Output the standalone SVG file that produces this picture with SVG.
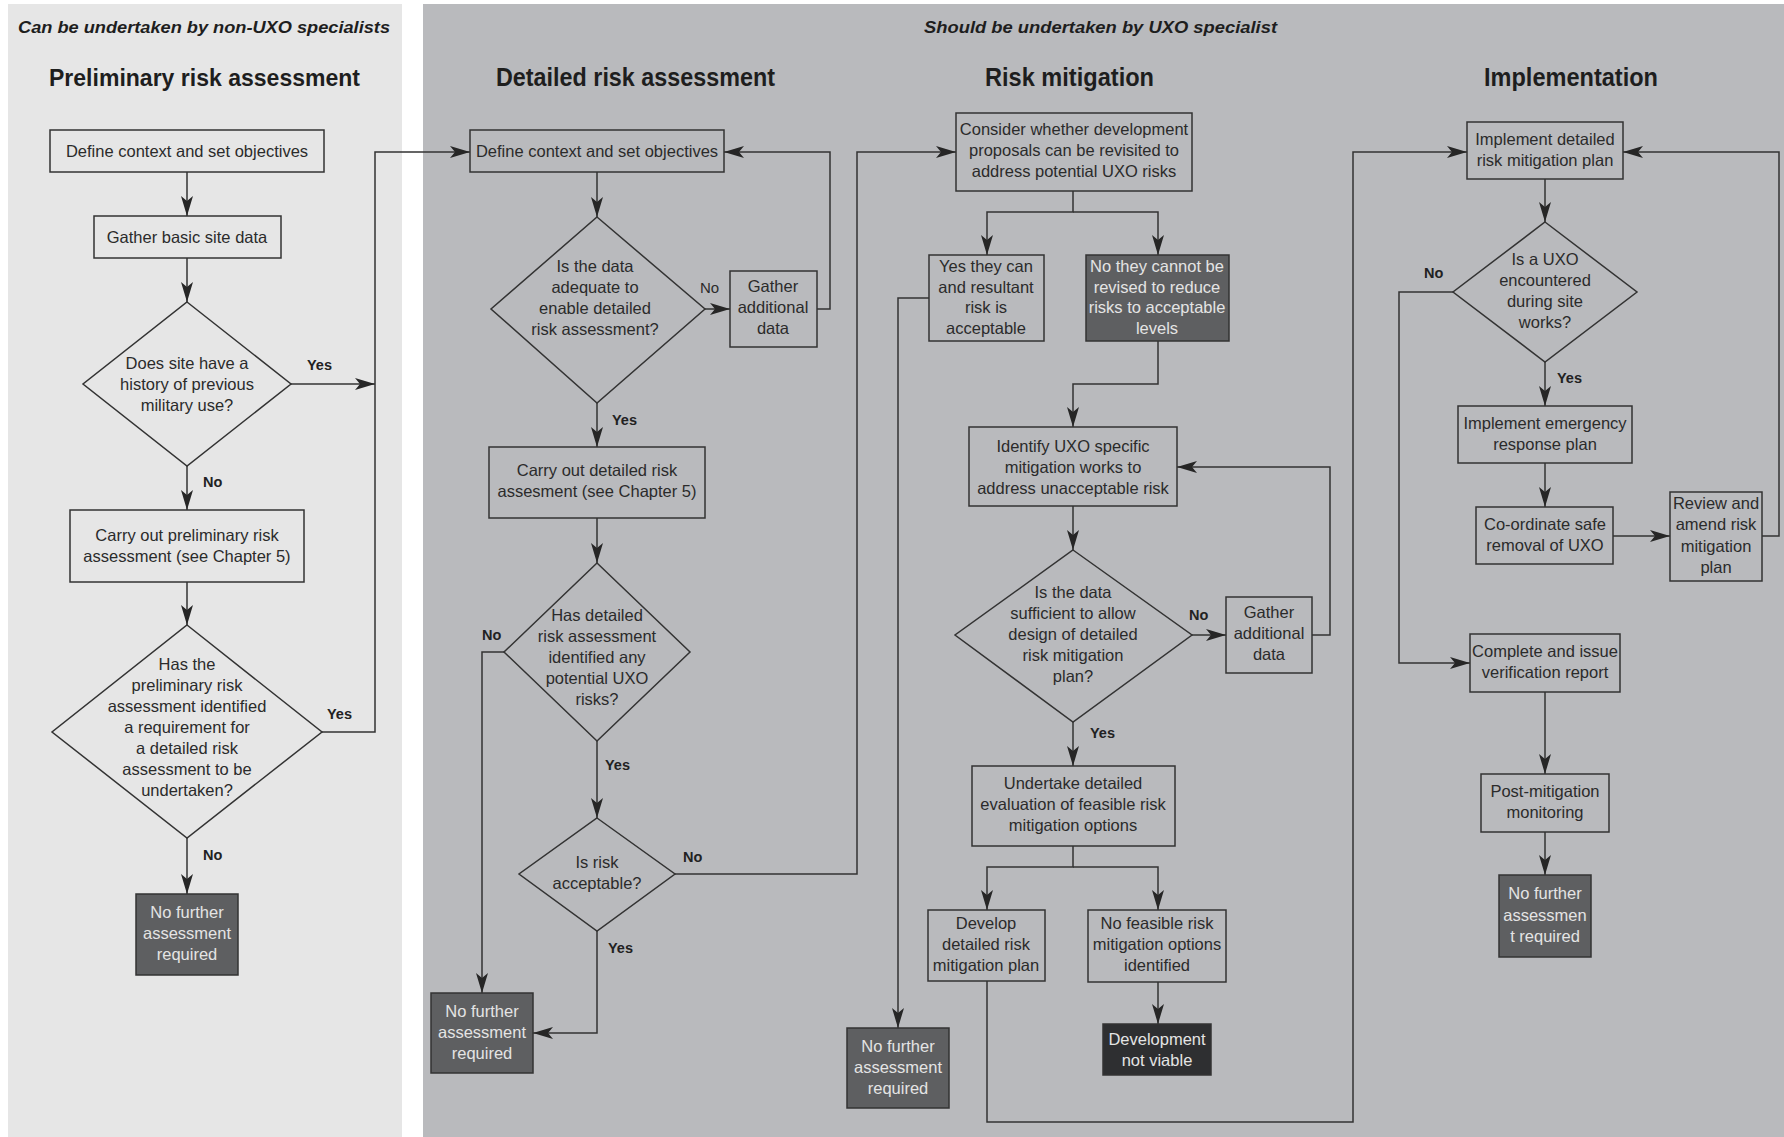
<svg xmlns="http://www.w3.org/2000/svg" width="1784" height="1137" viewBox="0 0 1784 1137">
<style>
.t{font-family:"Liberation Sans",Arial,sans-serif;font-size:16.5px;fill:#2b2b2b;text-anchor:middle}
.tw{font-family:"Liberation Sans",Arial,sans-serif;font-size:16.5px;fill:#e4e4e4;text-anchor:middle}
.lab{font-family:"Liberation Sans",Arial,sans-serif;font-size:14.5px;font-weight:bold;fill:#222}
.labr{font-family:"Liberation Sans",Arial,sans-serif;font-size:15px;fill:#2b2b2b}
.hd{font-family:"Liberation Sans Narrow","Liberation Sans",Arial,sans-serif;font-weight:bold;fill:#1e1e1e}
.bl{fill:#e6e6e6;stroke:#333;stroke-width:1.5}
.br{fill:#b9babd;stroke:#333;stroke-width:1.5}
.bd{fill:#5e5f61;stroke:#333;stroke-width:1.5}
.bx{fill:#2e2f31;stroke:#333;stroke-width:1.5}
.c{fill:none;stroke:#333;stroke-width:1.5}
.ca{fill:none;stroke:#333;stroke-width:1.5;marker-end:url(#ah)}
</style>
<defs>
<marker id="ah" markerWidth="20" markerHeight="12" refX="20" refY="6" orient="auto" markerUnits="userSpaceOnUse"><path d="M0,0 L20,6 L0,12 L5,6 z" fill="#262626"/></marker>
</defs>
<rect x="0" y="0" width="1784" height="1137" fill="#ffffff"/>
<rect x="8" y="4" width="394" height="1133" fill="#e6e6e6"/>
<rect x="423" y="4" width="1361" height="1133" fill="#b9babd"/>

<g id="headings">
<text class="hd" x="18" y="33" font-size="17" font-style="italic" textLength="372" lengthAdjust="spacingAndGlyphs">Can be undertaken by non-UXO specialists</text>
<text class="hd" x="49" y="86" font-size="24" textLength="311" lengthAdjust="spacingAndGlyphs">Preliminary risk assessment</text>
<text class="hd" x="924" y="33" font-size="17" font-style="italic" textLength="353" lengthAdjust="spacingAndGlyphs">Should be undertaken by UXO specialist</text>
<text class="hd" x="496" y="86" font-size="26" textLength="279" lengthAdjust="spacingAndGlyphs">Detailed risk assessment</text>
<text class="hd" x="985" y="86" font-size="26" textLength="169" lengthAdjust="spacingAndGlyphs">Risk mitigation</text>
<text class="hd" x="1484" y="86" font-size="26" textLength="174" lengthAdjust="spacingAndGlyphs">Implementation</text>
</g>

<g id="connectors">
<path class="ca" d="M187,172 V216"/>
<path class="ca" d="M187,258 V302"/>
<path class="ca" d="M291,384 H375"/>
<path class="ca" d="M187,466 V510"/>
<path class="ca" d="M187,582 V625"/>
<path class="ca" d="M322,732 H375 V152 H470"/>
<path class="ca" d="M187,838 V894"/>

<path class="ca" d="M597,172 V217"/>
<path class="ca" d="M705,309 H730"/>
<path class="ca" d="M817,309 H830 V152 H724"/>
<path class="ca" d="M597,403 V447"/>
<path class="ca" d="M597,518 V563"/>
<path class="ca" d="M504,652 H482 V993"/>
<path class="ca" d="M597,741 V818"/>
<path class="ca" d="M597,931 V1033 H533"/>
<path class="ca" d="M675,874 H857 V152 H956"/>

<path class="ca" d="M1073,191 V212 H987 V255"/>
<path class="ca" d="M1073,212 H1158 V255"/>
<path class="ca" d="M929,298 H898 V1028"/>
<path class="ca" d="M1158,341 V384 H1073 V427"/>
<path class="ca" d="M1073,506 V550"/>
<path class="ca" d="M1192,635 H1226"/>
<path class="ca" d="M1312,635 H1330 V467 H1177"/>
<path class="ca" d="M1073,722 V766"/>
<path class="ca" d="M1073,846 V867 H987 V910"/>
<path class="ca" d="M1073,867 H1158 V910"/>
<path class="ca" d="M1158,982 V1024"/>
<path class="ca" d="M987,981 V1122 H1353 V152 H1467"/>

<path class="ca" d="M1545,179 V222"/>
<path class="ca" d="M1545,362 V406"/>
<path class="ca" d="M1545,463 V507"/>
<path class="ca" d="M1613,536 H1670"/>
<path class="ca" d="M1762,536 H1779 V152 H1623"/>
<path class="ca" d="M1453,292 H1399 V663 H1470"/>
<path class="ca" d="M1545,692 V774"/>
<path class="ca" d="M1545,832 V875"/>

<text class="lab" x="307" y="370">Yes</text>
<text class="lab" x="203" y="487">No</text>
<text class="lab" x="327" y="719">Yes</text>
<text class="lab" x="203" y="860">No</text>
<text class="labr" x="700" y="293">No</text>
<text class="lab" x="612" y="425">Yes</text>
<text class="lab" x="482" y="640">No</text>
<text class="lab" x="605" y="770">Yes</text>
<text class="lab" x="683" y="862">No</text>
<text class="lab" x="608" y="953">Yes</text>
<text class="lab" x="1189" y="620">No</text>
<text class="lab" x="1090" y="738">Yes</text>
<text class="lab" x="1424" y="278">No</text>
<text class="lab" x="1557" y="383">Yes</text>
</g>

<g id="L1"><rect class="bl" x="50" y="130" width="274" height="42"/><text class="t" x="187" y="157">Define context and set objectives</text></g>
<g id="L2"><rect class="bl" x="94" y="216" width="187" height="42"/><text class="t" x="187" y="243">Gather basic site data</text></g>
<g id="L3"><polygon class="bl" points="187,302 291,384 187,466 83,384"/><text class="t"><tspan x="187" y="369">Does site have a</tspan><tspan x="187" y="390">history of previous</tspan><tspan x="187" y="411">military use?</tspan></text></g>
<g id="L4"><rect class="bl" x="70" y="510" width="234" height="72"/><text class="t"><tspan x="187" y="541">Carry out preliminary risk</tspan><tspan x="187" y="562">assessment (see Chapter 5)</tspan></text></g>
<g id="L5"><polygon class="bl" points="187,625 322,732 187,838 52,732"/><text class="t"><tspan x="187" y="670">Has the</tspan><tspan x="187" y="691">preliminary risk</tspan><tspan x="187" y="712">assessment identified</tspan><tspan x="187" y="733">a requirement for</tspan><tspan x="187" y="754">a detailed risk</tspan><tspan x="187" y="775">assessment to be</tspan><tspan x="187" y="796">undertaken?</tspan></text></g>
<g id="L6"><rect class="bd" x="136" y="894" width="102" height="81"/><text class="tw"><tspan x="187" y="918">No further</tspan><tspan x="187" y="939">assessment</tspan><tspan x="187" y="960">required</tspan></text></g>

<g id="D1"><rect class="br" x="470" y="130" width="254" height="42"/><text class="t" x="597" y="157">Define context and set objectives</text></g>
<g id="D2"><polygon class="br" points="597,217 705,309 597,403 491,309"/><text class="t"><tspan x="595" y="272">Is the data</tspan><tspan x="595" y="293">adequate to</tspan><tspan x="595" y="314">enable detailed</tspan><tspan x="595" y="335">risk assessment?</tspan></text></g>
<g id="D3"><rect class="br" x="730" y="271" width="87" height="76"/><text class="t"><tspan x="773" y="292">Gather</tspan><tspan x="773" y="313">additional</tspan><tspan x="773" y="334">data</tspan></text></g>
<g id="D4"><rect class="br" x="489" y="447" width="216" height="71"/><text class="t"><tspan x="597" y="476">Carry out detailed risk</tspan><tspan x="597" y="497">assesment (see Chapter 5)</tspan></text></g>
<g id="D5"><polygon class="br" points="597,563 690,652 597,741 504,652"/><text class="t"><tspan x="597" y="621">Has detailed</tspan><tspan x="597" y="642">risk assessment</tspan><tspan x="597" y="663">identified any</tspan><tspan x="597" y="684">potential UXO</tspan><tspan x="597" y="705">risks?</tspan></text></g>
<g id="D6"><polygon class="br" points="597,818 675,874 597,931 519,874"/><text class="t"><tspan x="597" y="868">Is risk</tspan><tspan x="597" y="889">acceptable?</tspan></text></g>
<g id="D7"><rect class="bd" x="431" y="993" width="102" height="80"/><text class="tw"><tspan x="482" y="1017">No further</tspan><tspan x="482" y="1038">assessment</tspan><tspan x="482" y="1059">required</tspan></text></g>

<g id="M1"><rect class="br" x="956" y="113" width="236" height="78"/><text class="t"><tspan x="1074" y="135">Consider whether development</tspan><tspan x="1074" y="156">proposals can be revisited to</tspan><tspan x="1074" y="177">address potential UXO risks</tspan></text></g>
<g id="M2"><rect class="br" x="929" y="255" width="115" height="86"/><text class="t"><tspan x="986" y="272">Yes they can</tspan><tspan x="986" y="293">and resultant</tspan><tspan x="986" y="313">risk is</tspan><tspan x="986" y="334">acceptable</tspan></text></g>
<g id="M3"><rect class="bd" x="1086" y="255" width="143" height="86"/><text class="tw"><tspan x="1157" y="272">No they cannot be</tspan><tspan x="1157" y="293">revised to reduce</tspan><tspan x="1157" y="313">risks to acceptable</tspan><tspan x="1157" y="334">levels</tspan></text></g>
<g id="M4"><rect class="br" x="969" y="427" width="208" height="79"/><text class="t"><tspan x="1073" y="452">Identify UXO specific</tspan><tspan x="1073" y="473">mitigation works to</tspan><tspan x="1073" y="494">address unacceptable risk</tspan></text></g>
<g id="M5"><polygon class="br" points="1073,550 1192,635 1073,722 955,635"/><text class="t"><tspan x="1073" y="598">Is the data</tspan><tspan x="1073" y="619">sufficient to allow</tspan><tspan x="1073" y="640">design of detailed</tspan><tspan x="1073" y="661">risk mitigation</tspan><tspan x="1073" y="682">plan?</tspan></text></g>
<g id="M6"><rect class="br" x="1226" y="597" width="86" height="76"/><text class="t"><tspan x="1269" y="618">Gather</tspan><tspan x="1269" y="639">additional</tspan><tspan x="1269" y="660">data</tspan></text></g>
<g id="M7"><rect class="br" x="972" y="766" width="203" height="80"/><text class="t"><tspan x="1073" y="789">Undertake detailed</tspan><tspan x="1073" y="810">evaluation of feasible risk</tspan><tspan x="1073" y="831">mitigation options</tspan></text></g>
<g id="M8"><rect class="br" x="928" y="910" width="117" height="71"/><text class="t"><tspan x="986" y="929">Develop</tspan><tspan x="986" y="950">detailed risk</tspan><tspan x="986" y="971">mitigation plan</tspan></text></g>
<g id="M9"><rect class="br" x="1088" y="910" width="138" height="72"/><text class="t"><tspan x="1157" y="929">No feasible risk</tspan><tspan x="1157" y="950">mitigation options</tspan><tspan x="1157" y="971">identified</tspan></text></g>
<g id="M10"><rect class="bx" x="1103" y="1024" width="108" height="51"/><text class="tw"><tspan x="1157" y="1045">Development</tspan><tspan x="1157" y="1066">not viable</tspan></text></g>
<g id="M11"><rect class="bd" x="847" y="1028" width="102" height="80"/><text class="tw"><tspan x="898" y="1052">No further</tspan><tspan x="898" y="1073">assessment</tspan><tspan x="898" y="1094">required</tspan></text></g>

<g id="I1"><rect class="br" x="1467" y="122" width="156" height="57"/><text class="t"><tspan x="1545" y="145">Implement detailed</tspan><tspan x="1545" y="166">risk mitigation plan</tspan></text></g>
<g id="I2"><polygon class="br" points="1545,222 1637,292 1545,362 1453,292"/><text class="t"><tspan x="1545" y="265">Is a UXO</tspan><tspan x="1545" y="286">encountered</tspan><tspan x="1545" y="307">during site</tspan><tspan x="1545" y="328">works?</tspan></text></g>
<g id="I3"><rect class="br" x="1458" y="406" width="174" height="57"/><text class="t"><tspan x="1545" y="429">Implement emergency</tspan><tspan x="1545" y="450">response plan</tspan></text></g>
<g id="I4"><rect class="br" x="1476" y="507" width="137" height="57"/><text class="t"><tspan x="1545" y="530">Co-ordinate safe</tspan><tspan x="1545" y="551">removal of UXO</tspan></text></g>
<g id="I5"><rect class="br" x="1670" y="492" width="92" height="89"/><text class="t"><tspan x="1716" y="509">Review and</tspan><tspan x="1716" y="530">amend risk</tspan><tspan x="1716" y="552">mitigation</tspan><tspan x="1716" y="573">plan</tspan></text></g>
<g id="I6"><rect class="br" x="1470" y="634" width="150" height="58"/><text class="t"><tspan x="1545" y="657">Complete and issue</tspan><tspan x="1545" y="678">verification report</tspan></text></g>
<g id="I7"><rect class="br" x="1481" y="774" width="128" height="58"/><text class="t"><tspan x="1545" y="797">Post-mitigation</tspan><tspan x="1545" y="818">monitoring</tspan></text></g>
<g id="I8"><rect class="bd" x="1499" y="875" width="92" height="82"/><text class="tw"><tspan x="1545" y="899">No further</tspan><tspan x="1545" y="921">assessmen</tspan><tspan x="1545" y="942">t required</tspan></text></g>
</svg>
